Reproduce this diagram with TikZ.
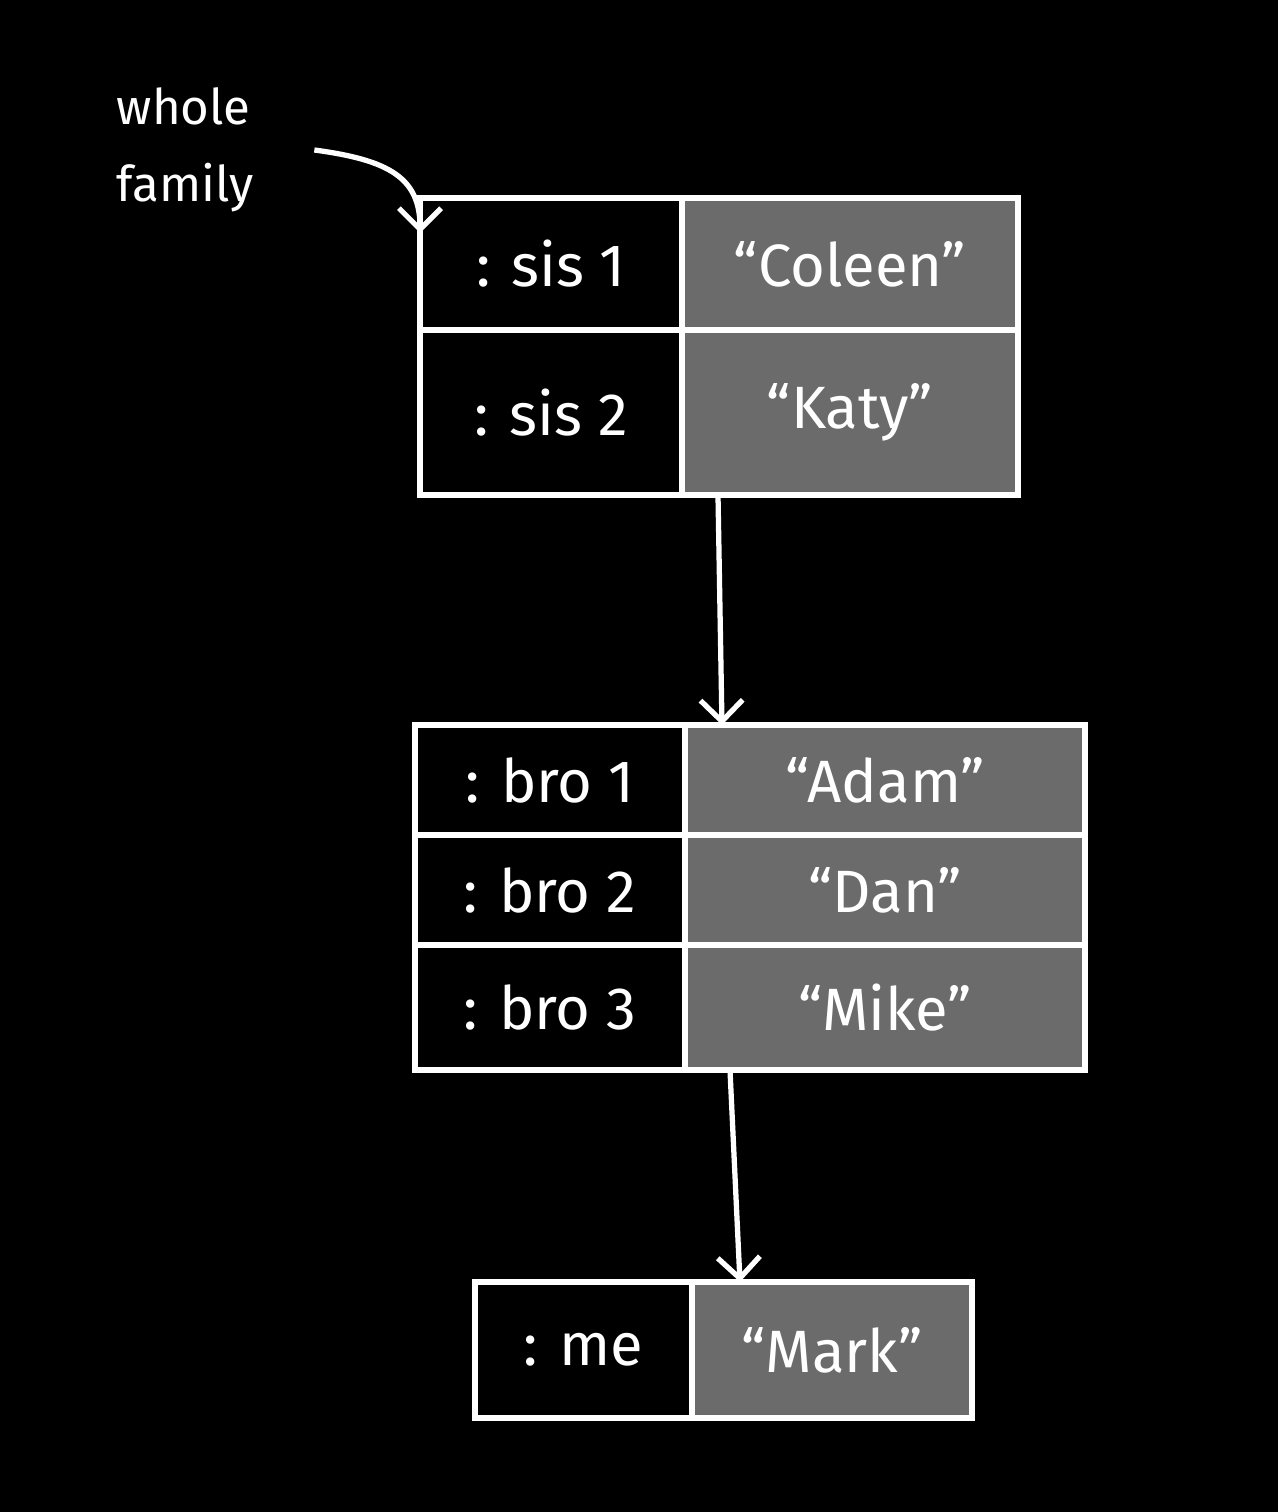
\documentclass[tikz,border=0pt]{standalone}
\usepackage{fontspec}
\setmainfont{Fira Sans}
\usetikzlibrary{arrows.meta,calc}
\definecolor{cellgray}{HTML}{6B6B6B}
\tikzset{keycell/.style={draw=white,line width=3pt,fill=black,text=white,anchor=north west,
  inner sep=0,outer sep=0,font=\fontsize{34}{38}\selectfont},
  valcell/.style={keycell,fill=cellgray},
  arr/.style={draw=white,line width=3pt,-{Straight Barb[length=12pt,width=24pt]}}}

\begin{document}
\begin{tikzpicture}[x=0.02cm,y=-0.02cm]
 \fill[black] (0,0) rectangle (1278,1512);
 \useasboundingbox (0,0) rectangle (1278,1512);
 % whole family
 \node[text=white,align=left,font=\fontsize{28}{44}\selectfont] (lbl) at (185,150) {whole\\family};
 \node[keycell,minimum width=5.24cm,minimum height=2.64cm] (sis1) at (420,198) {: sis 1};
 \node[valcell,minimum width=6.72cm,minimum height=2.64cm] (coleen) at (682,198) {``Coleen''};
 \node[keycell,minimum width=5.24cm,minimum height=3.3cm] (sis2) at (420,330) {: sis 2};
 \node[valcell,minimum width=6.72cm,minimum height=3.3cm] (katy) at (682,330) {``Katy''};
 % brothers
 \node[keycell,minimum width=5.4cm,minimum height=2.2cm] (bro1) at (415,725) {: bro 1};
 \node[valcell,minimum width=8cm,minimum height=2.2cm] (adam) at (685,725) {``Adam''};
 \node[keycell,minimum width=5.4cm,minimum height=2.2cm] (bro2) at (415,835) {: bro 2};
 \node[valcell,minimum width=8cm,minimum height=2.2cm] (dan) at (685,835) {``Dan''};
 \node[keycell,minimum width=5.4cm,minimum height=2.5cm] (bro3) at (415,945) {: bro 3};
 \node[valcell,minimum width=8cm,minimum height=2.5cm] (mike) at (685,945) {``Mike''};
 % me
 \node[keycell,minimum width=4.34cm,minimum height=2.72cm] (me) at (475,1282) {: me};
 \node[valcell,minimum width=5.6cm,minimum height=2.72cm] (mark) at (692,1282) {``Mark''};
 % arrows
 \draw[arr] ([xshift=1.1cm]lbl.east) .. controls +(75,10) and +(0,-55) .. ([yshift=-0.7cm]sis1.north west);
 \draw[arr] ([xshift=0.72cm]katy.south west) -- ([xshift=0.74cm]adam.north west);
 \draw[arr] ([xshift=0.9cm]mike.south west) -- ([xshift=0.96cm]mark.north west);
\end{tikzpicture}
\end{document}
